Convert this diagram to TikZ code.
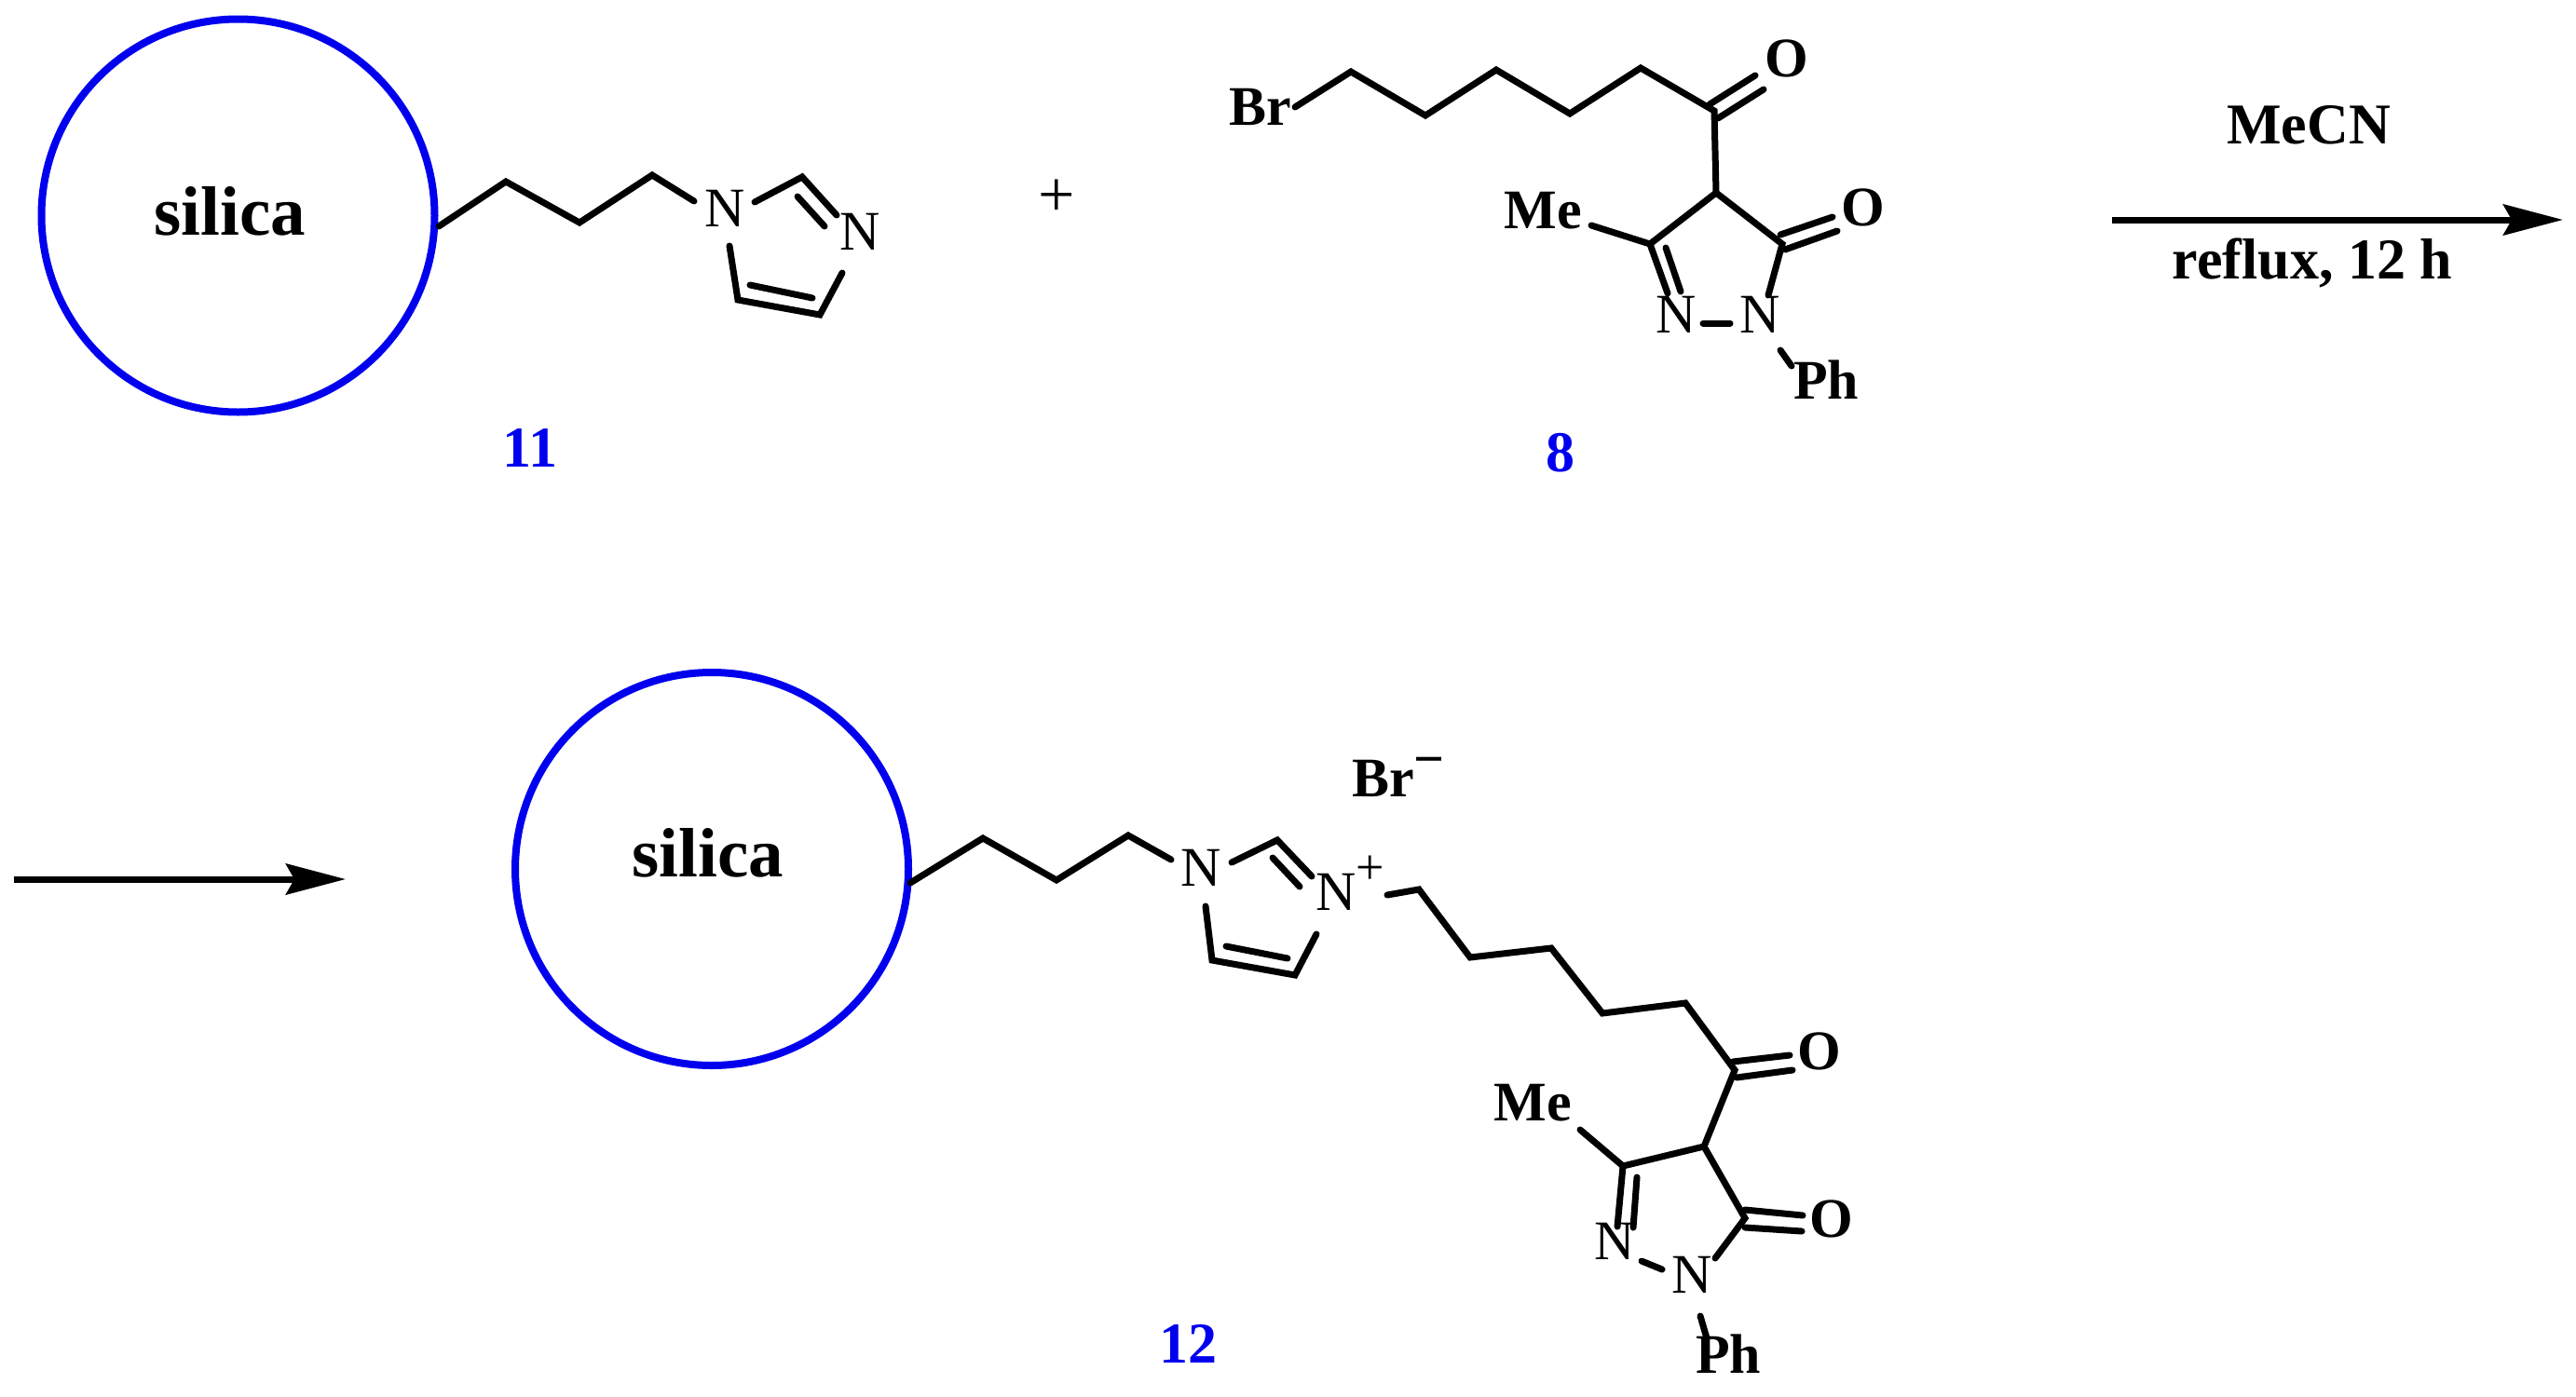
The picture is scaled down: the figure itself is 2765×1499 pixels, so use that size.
\documentclass[tikz,border=0pt]{standalone}
\usepackage{fontspec}
\setmainfont{Liberation Serif}
\usetikzlibrary{arrows.meta}
\definecolor{silicablue}{RGB}{0,0,238}
\tikzset{
  x=0.5pt,y=-0.5pt,
  bond/.style={draw=black,line width=3.5pt,line cap=round,line join=miter},
  sphere/.style={draw=silicablue,line width=4pt},
  rxn/.style={draw=black,line width=3.5pt,-{Stealth[length=32pt,width=16.5pt,inset=4.5pt]}},
  atom/.style={anchor=base,inner sep=0pt,outer sep=0pt,font=\fontsize{30}{30}\selectfont},
  atomw/.style={anchor=base west,inner sep=0pt,outer sep=0pt},
  group/.style={atom,font=\fontsize{30}{30}\selectfont\bfseries},
  bigtext/.style={atom,font=\fontsize{37.5}{37.5}\selectfont\bfseries},
  rlabel/.style={atom,font=\fontsize{31}{31}\selectfont\bfseries},
  cmpd/.style={atom,text=silicablue,font=\fontsize{31}{31}\selectfont\bfseries},
}
\begin{document}
\begin{tikzpicture}
\useasboundingbox (0,0) rectangle (2765,1499);
% ---------- compound 11
\node[sphere,circle,minimum size=211pt,inner sep=0pt,outer sep=0pt] (s1) at (255.5,231.5) {};
\node[bigtext] (s1t) at (247,252) {silica};
\coordinate (a1) at (471,243);
\coordinate (a2) at (543,195);
\coordinate (a3) at (622,239);
\coordinate (a4) at (700,188);
\coordinate (a5) at (745,216);
\coordinate (a6) at (810,217);
\coordinate (a7) at (861,190);
\coordinate (a8) at (898,231);
\coordinate (a9) at (856,211);
\coordinate (a10) at (885,243);
\coordinate (a11) at (783,264);
\coordinate (a12) at (792,322);
\coordinate (a13) at (880,338);
\coordinate (a14) at (904,293);
\coordinate (a15) at (805,306);
\coordinate (a16) at (872,320);
\node[atom] (n1) at (778,243) {N};
\node[atom] (n2) at (923,268) {N};
\draw[bond] (a1)--(a2)--(a3)--(a4)--(a5);
\draw[bond] (a6)--(a7)--(a8);
\draw[bond] (a9)--(a10);
\draw[bond] (a11)--(a12)--(a13)--(a14);
\draw[bond] (a15)--(a16);
\node[cmpd] (c11) at (569,501) {11};
% ---------- plus
\node[atom,font=\fontsize{35}{35}\selectfont] (plus) at (1134,232) {+};
% ---------- compound 8
\node[group] (br1) at (1353,134) {Br};
\coordinate (b1) at (1390,115);
\coordinate (b2) at (1450,77);
\coordinate (b3) at (1530,124);
\coordinate (b4) at (1606,75);
\coordinate (b5) at (1685,122);
\coordinate (b6) at (1761,73);
\coordinate (b7) at (1840,119);
\coordinate (b8) at (1835,112);
\coordinate (b9) at (1884,81);
\coordinate (b10) at (1844,127);
\coordinate (b11) at (1893,96);
\coordinate (b12) at (1842,207);
\coordinate (b13) at (1771,262);
\coordinate (b14) at (1913,262);
\coordinate (b15) at (1708,242);
\coordinate (b16) at (1790,315);
\coordinate (b17) at (1788,266);
\coordinate (b18) at (1804,313);
\coordinate (b19) at (1828,347);
\coordinate (b20) at (1857,347);
\coordinate (b21) at (1898,317);
\coordinate (b22) at (1911,252);
\coordinate (b23) at (1967,233);
\coordinate (b24) at (1916,268);
\coordinate (b25) at (1972,248);
\coordinate (b26) at (1911,376);
\coordinate (b27) at (1923,393);
\draw[bond] (b1)--(b2)--(b3)--(b4)--(b5)--(b6)--(b7)--(b12)--(b13)--(b16);
\draw[bond] (b8)--(b9);
\draw[bond] (b10)--(b11);
\draw[bond] (b12)--(b14)--(b21);
\draw[bond] (b13)--(b15);
\draw[bond] (b17)--(b18);
\draw[bond] (b19)--(b20);
\draw[bond] (b22)--(b23);
\draw[bond] (b24)--(b25);
\draw[bond] (b26)--(b27);
\node[group] (o1) at (1918,82) {O};
\node[group] (o2) at (2000,242) {O};
\node[group] (me1) at (1656,245) {Me};
\node[atom] (n3) at (1799,357) {N};
\node[atom] (n4) at (1889,357) {N};
\node[group] (ph1) at (1960,428) {Ph};
\node[cmpd] (c8) at (1675,506) {8};
% ---------- reaction arrow, top
\coordinate (r1) at (2267,236);
\coordinate (r2) at (2751,236);
\draw[rxn] (r1)--(r2);
\node[rlabel] (mecn) at (2478,154) {MeCN};
\node[rlabel] (reflux) at (2482,299) {reflux, 12 h};
% ---------- reaction arrow, bottom
\coordinate (r3) at (15,944);
\coordinate (r4) at (371,944);
\draw[rxn] (r3)--(r4);
% ---------- compound 12
\node[sphere,circle,minimum size=211pt,inner sep=0pt,outer sep=0pt] (s2) at (764,933) {};
\node[bigtext] (s2t) at (760,941) {silica};
\coordinate (d1) at (977,948);
\coordinate (d2) at (1055,900);
\coordinate (d3) at (1134,945);
\coordinate (d4) at (1211,897);
\coordinate (d5) at (1257,923);
\coordinate (d6) at (1322,926);
\coordinate (d7) at (1371,902);
\coordinate (d8) at (1408,941);
\coordinate (d9) at (1366,921);
\coordinate (d10) at (1395,952);
\coordinate (d11) at (1294,973);
\coordinate (d12) at (1301,1031);
\coordinate (d13) at (1390,1047);
\coordinate (d14) at (1413,1003);
\coordinate (d15) at (1316,1016);
\coordinate (d16) at (1382,1029);
\coordinate (d17) at (1489,961);
\coordinate (d18) at (1523,955);
\coordinate (d19) at (1578,1028);
\coordinate (d20) at (1665,1018);
\coordinate (d21) at (1720,1088);
\coordinate (d22) at (1809,1077);
\coordinate (d23) at (1862,1149);
\coordinate (d24) at (1860,1140);
\coordinate (d25) at (1921,1133);
\coordinate (d26) at (1864,1157);
\coordinate (d27) at (1924,1149);
\coordinate (d28) at (1829,1231);
\coordinate (d29) at (1742,1252);
\coordinate (d30) at (1873,1308);
\coordinate (d31) at (1696,1213);
\coordinate (d32) at (1736,1317);
\coordinate (d33) at (1757,1264);
\coordinate (d34) at (1753,1318);
\coordinate (d35) at (1762,1354);
\coordinate (d36) at (1784,1363);
\coordinate (d37) at (1841,1351);
\coordinate (d38) at (1873,1299);
\coordinate (d39) at (1935,1305);
\coordinate (d40) at (1873,1318);
\coordinate (d41) at (1934,1322);
\coordinate (d42) at (1825,1413);
\coordinate (d43) at (1832,1437);
\draw[bond] (d1)--(d2)--(d3)--(d4)--(d5);
\draw[bond] (d6)--(d7)--(d8);
\draw[bond] (d9)--(d10);
\draw[bond] (d11)--(d12)--(d13)--(d14);
\draw[bond] (d15)--(d16);
\draw[bond] (d17)--(d18)--(d19)--(d20)--(d21)--(d22)--(d23)--(d28)--(d29)--(d32);
\draw[bond] (d24)--(d25);
\draw[bond] (d26)--(d27);
\draw[bond] (d28)--(d30)--(d37);
\draw[bond] (d29)--(d31);
\draw[bond] (d33)--(d34);
\draw[bond] (d35)--(d36);
\draw[bond] (d38)--(d39);
\draw[bond] (d40)--(d41);
\draw[bond] (d42)--(d43);
\node[atom] (n5) at (1289,951) {N};
\node[atomw,font=\fontsize{30}{30}\selectfont] (n6) at (1412,977) {N\raisebox{14pt}{\fontsize{27}{27}\selectfont +}};
\node[atomw,font=\fontsize{30}{30}\selectfont\bfseries] (br2) at (1451,855) {Br\raisebox{10.5pt}{\fontsize{29}{29}\selectfont −}};
\node[group] (o3) at (1953,1148) {O};
\node[group] (o4) at (1966,1328) {O};
\node[group] (me2) at (1645,1203) {Me};
\node[atom] (n7) at (1733,1352) {N};
\node[atom] (n8) at (1816,1388) {N};
\node[group] (ph2) at (1855,1474) {Ph};
\node[cmpd] (c12) at (1275,1463) {12};
\end{tikzpicture}
\end{document}
